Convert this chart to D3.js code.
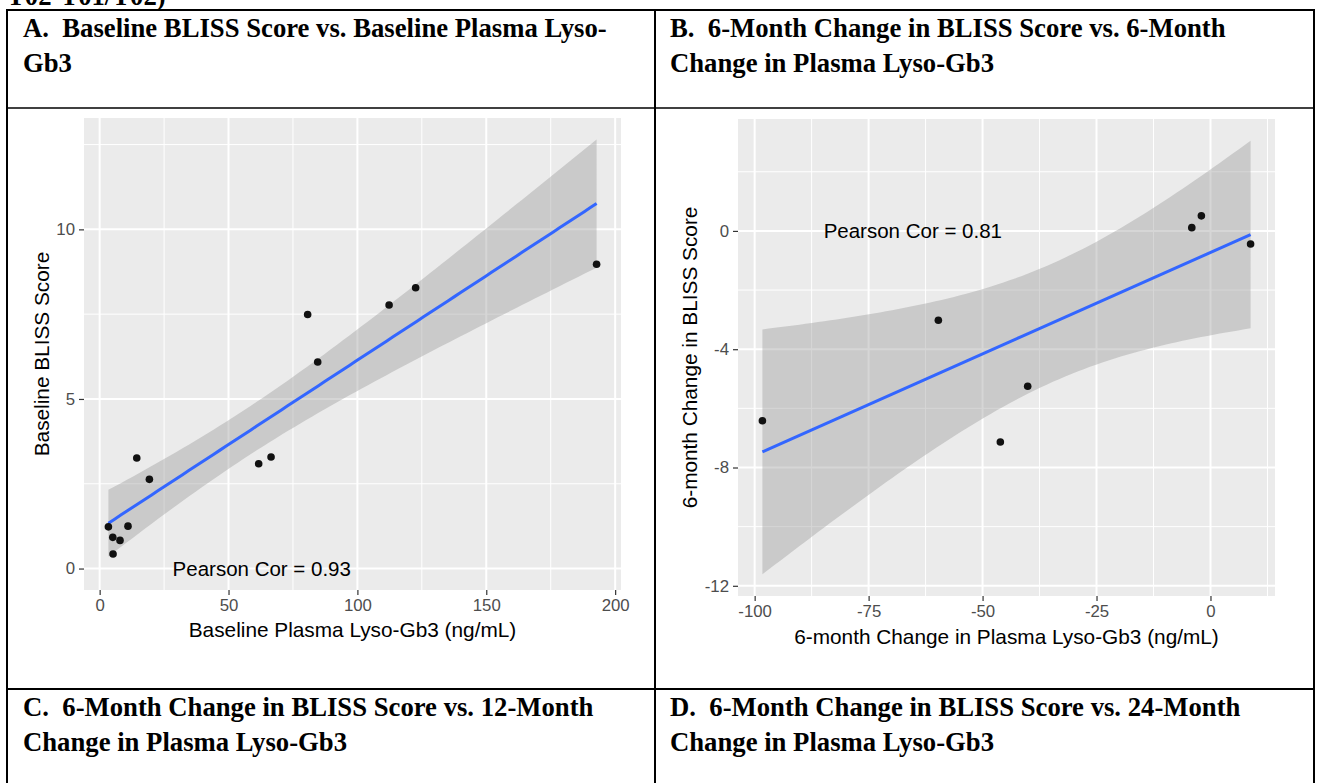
<!DOCTYPE html>
<html>
<head>
<meta charset="utf-8">
<script src="https://cdn.jsdelivr.net/npm/d3@7"></script>
<style>
body{margin:0;background:#fff;}
text{white-space:pre;}
</style>
</head>
<body>
<svg id="chart" width="1317" height="783"></svg>
<script>
// panel A: baseline values
const baseLyso  = [80.7, 84.6, 112.3, 122.6, 192.8, 14.4, 19.3, 61.7, 66.5, 3.4, 11.0, 5.1, 7.9, 5.2];
const baseBliss = [7.49, 6.09, 7.77, 8.28, 8.97, 3.26, 2.63, 3.09, 3.29, 1.23, 1.25, 0.92, 0.83, 0.43];
const baseXTicks = [0, 50, 100, 150, 200];
const baseYTicks = [0, 5, 10];

// panel B: 6-month change
const chgLyso  = [-59.7, -40.1, -4.1, -2.0, 8.8, -98.3, -46.1];
const chgBliss = [-3.02, -5.25, 0.11, 0.51, -0.44, -6.42, -7.14];
const chgXTicks = [-100, -75, -50, -25, 0];
const chgYTicks = [-12, -8, -4, 0];

const headerTop = "T02-T01/T02)";
const headersRow1 = [
    ["A.  Baseline BLISS Score vs. Baseline Plasma Lyso-", "Gb3"],
    ["B.  6-Month Change in BLISS Score vs. 6-Month", "Change in Plasma Lyso-Gb3"]
];
const headersRow2 = [
    ["C.  6-Month Change in BLISS Score vs. 12-Month", "Change in Plasma Lyso-Gb3"],
    ["D.  6-Month Change in BLISS Score vs. 24-Month", "Change in Plasma Lyso-Gb3"]
];

// 97.5% t quantiles by degrees of freedom
const tQuant = {3: 3.182446, 4: 2.776445, 5: 2.570582, 6: 2.446912, 10: 2.228139, 12: 2.178813, 14: 2.144787};

const sans = "'Liberation Sans', Arial, sans-serif";
const serif = "'Liberation Serif', 'Times New Roman', serif";

const svg = d3.select("#chart");
svg.append("rect").attr("width", 1317).attr("height", 783).attr("fill", "#fff");

function fitLm(xs, ys) {
    const n = xs.length;
    const mx = d3.mean(xs), my = d3.mean(ys);
    let sxx = 0, sxy = 0, syy = 0;
    xs.forEach((x, i) => {
        const dx = x - mx, dy = ys[i] - my;
        sxx += dx * dx; sxy += dx * dy; syy += dy * dy;
    });
    const b = sxy / sxx, a = my - b * mx;
    const s = Math.sqrt((syy - b * sxy) / (n - 2));
    const t = tQuant[n - 2];
    const [x0, x1] = d3.extent(xs);
    const pts = d3.range(80).map(i => {
        const x = x0 + (x1 - x0) * i / 79;
        const y = a + b * x;
        const se = s * Math.sqrt(1 / n + (x - mx) * (x - mx) / sxx);
        return {x: x, y: y, lo: y - t * se, hi: y + t * se};
    });
    return {pts: pts, r: sxy / Math.sqrt(sxx * syy)};
}

function minorOf(ticks, dom) {
    const step = ticks[1] - ticks[0];
    const out = [];
    for (let v = ticks[0] - step / 2; v <= dom[1]; v += step) {
        if (v >= dom[0]) out.push(v);
    }
    return out;
}

function drawPanel(p) {
    const fit = fitLm(p.xs, p.ys);
    const pad = r => [r[0] - (r[1] - r[0]) * 0.05, r[1] + (r[1] - r[0]) * 0.05];
    const xr = d3.extent(p.xs.concat([p.labelAt[0]]));
    const yr = d3.extent(p.ys.concat(fit.pts.map(d => d.lo), fit.pts.map(d => d.hi), [p.labelAt[1]]));
    const x = d3.scaleLinear().domain(pad(xr)).range([p.left, p.right]);
    const y = d3.scaleLinear().domain(pad(yr)).range([p.bottom, p.top]);

    const g = svg.append("g");
    g.append("rect")
        .attr("x", p.left).attr("y", p.top)
        .attr("width", p.right - p.left).attr("height", p.bottom - p.top)
        .attr("fill", "#EBEBEB");

    // grid
    g.selectAll(".vminor").data(minorOf(p.xTicks, x.domain())).join("line")
        .attr("x1", d => x(d)).attr("x2", d => x(d))
        .attr("y1", p.top).attr("y2", p.bottom)
        .attr("stroke", "#fff").attr("stroke-width", 1);
    g.selectAll(".hminor").data(minorOf(p.yTicks, y.domain())).join("line")
        .attr("y1", d => y(d)).attr("y2", d => y(d))
        .attr("x1", p.left).attr("x2", p.right)
        .attr("stroke", "#fff").attr("stroke-width", 1);
    g.selectAll(".vmajor").data(p.xTicks).join("line")
        .attr("x1", d => x(d)).attr("x2", d => x(d))
        .attr("y1", p.top).attr("y2", p.bottom)
        .attr("stroke", "#fff").attr("stroke-width", 2);
    g.selectAll(".hmajor").data(p.yTicks).join("line")
        .attr("y1", d => y(d)).attr("y2", d => y(d))
        .attr("x1", p.left).attr("x2", p.right)
        .attr("stroke", "#fff").attr("stroke-width", 2);

    // smooth + ribbon
    g.append("path").datum(fit.pts)
        .attr("d", d3.area().x(d => x(d.x)).y0(d => y(d.lo)).y1(d => y(d.hi)))
        .attr("fill", "#999999").attr("fill-opacity", 0.4);
    g.append("path").datum(fit.pts)
        .attr("d", d3.line().x(d => x(d.x)).y(d => y(d.y)))
        .attr("fill", "none").attr("stroke", "#3366FF").attr("stroke-width", 3);

    g.selectAll(".pt").data(p.xs.map((v, i) => [v, p.ys[i]])).join("circle")
        .attr("cx", d => x(d[0])).attr("cy", d => y(d[1]))
        .attr("r", 3.8).attr("fill", "#111");

    g.append("text")
        .attr("x", x(p.labelAt[0])).attr("y", y(p.labelAt[1]))
        .attr("dy", "0.36em").attr("text-anchor", "middle")
        .attr("font-family", sans).attr("font-size", 20.5).attr("fill", "#000")
        .text("Pearson Cor = " + fit.r.toFixed(2));

    // axes
    const xAxis = d3.axisBottom(x).tickValues(p.xTicks).tickSize(5).tickPadding(4).tickFormat(d => String(d));
    const yAxis = d3.axisLeft(y).tickValues(p.yTicks).tickSize(5).tickPadding(4).tickFormat(d => String(d));
    const xa = g.append("g").attr("transform", "translate(0," + p.bottom + ")").call(xAxis);
    const ya = g.append("g").attr("transform", "translate(" + p.left + ",0)").call(yAxis);
    [xa, ya].forEach(a => {
        a.select(".domain").remove();
        a.selectAll(".tick line").attr("stroke", "#333").attr("stroke-width", 1.2);
        a.selectAll(".tick text").attr("fill", "#4D4D4D")
            .attr("font-family", sans).attr("font-size", 16.8);
    });

    g.append("text")
        .attr("x", (p.left + p.right) / 2).attr("y", p.xTitleY)
        .attr("text-anchor", "middle")
        .attr("font-family", sans).attr("font-size", 20.8).attr("fill", "#000")
        .text(p.xTitle);
    g.append("text")
        .attr("transform", "translate(" + p.yTitleX + "," + (p.top + p.bottom) / 2 + ") rotate(-90)")
        .attr("text-anchor", "middle")
        .attr("font-family", sans).attr("font-size", 20.8).attr("fill", "#000")
        .text(p.yTitle);
}

drawPanel({
    xs: baseLyso, ys: baseBliss, xTicks: baseXTicks, yTicks: baseYTicks,
    labelAt: [62.9, 0],
    left: 84, right: 621, top: 118, bottom: 590,
    xTitle: "Baseline Plasma Lyso-Gb3 (ng/mL)", xTitleY: 636.5,
    yTitle: "Baseline BLISS Score", yTitleX: 48.5
});

drawPanel({
    xs: chgLyso, ys: chgBliss, xTicks: chgXTicks, yTicks: chgYTicks,
    labelAt: [-65.3, 0],
    left: 738, right: 1275, top: 119, bottom: 596,
    xTitle: "6-month Change in Plasma Lyso-Gb3 (ng/mL)", xTitleY: 643.5,
    yTitle: "6-month Change in BLISS Score", yTitleX: 696.5
});

// table frame and headers
const frame = svg.append("g").attr("stroke", "#000").attr("fill", "none");
frame.append("rect").attr("x", 7).attr("y", 10).attr("width", 1307).attr("height", 800).attr("stroke-width", 2);
frame.append("line").attr("x1", 7).attr("x2", 1314).attr("y1", 108).attr("y2", 108).attr("stroke-width", 1.6);
frame.append("line").attr("x1", 7).attr("x2", 1314).attr("y1", 689).attr("y2", 689).attr("stroke-width", 2);
frame.append("line").attr("x1", 655).attr("x2", 655).attr("y1", 10).attr("y2", 783).attr("stroke-width", 2);

const head = svg.append("g")
    .attr("font-family", serif).attr("font-weight", "bold")
    .attr("font-size", 26.7).attr("fill", "#000");
head.append("text").attr("x", 7).attr("y", 5).text(headerTop);

function headerCell(lines, x0, y0) {
    lines.forEach((t, i) => {
        head.append("text").attr("x", x0).attr("y", y0 + i * 35).text(t);
    });
}
headerCell(headersRow1[0], 23, 37);
headerCell(headersRow1[1], 670, 37);
headerCell(headersRow2[0], 23, 716);
headerCell(headersRow2[1], 670, 716);
</script>
</body>
</html>
